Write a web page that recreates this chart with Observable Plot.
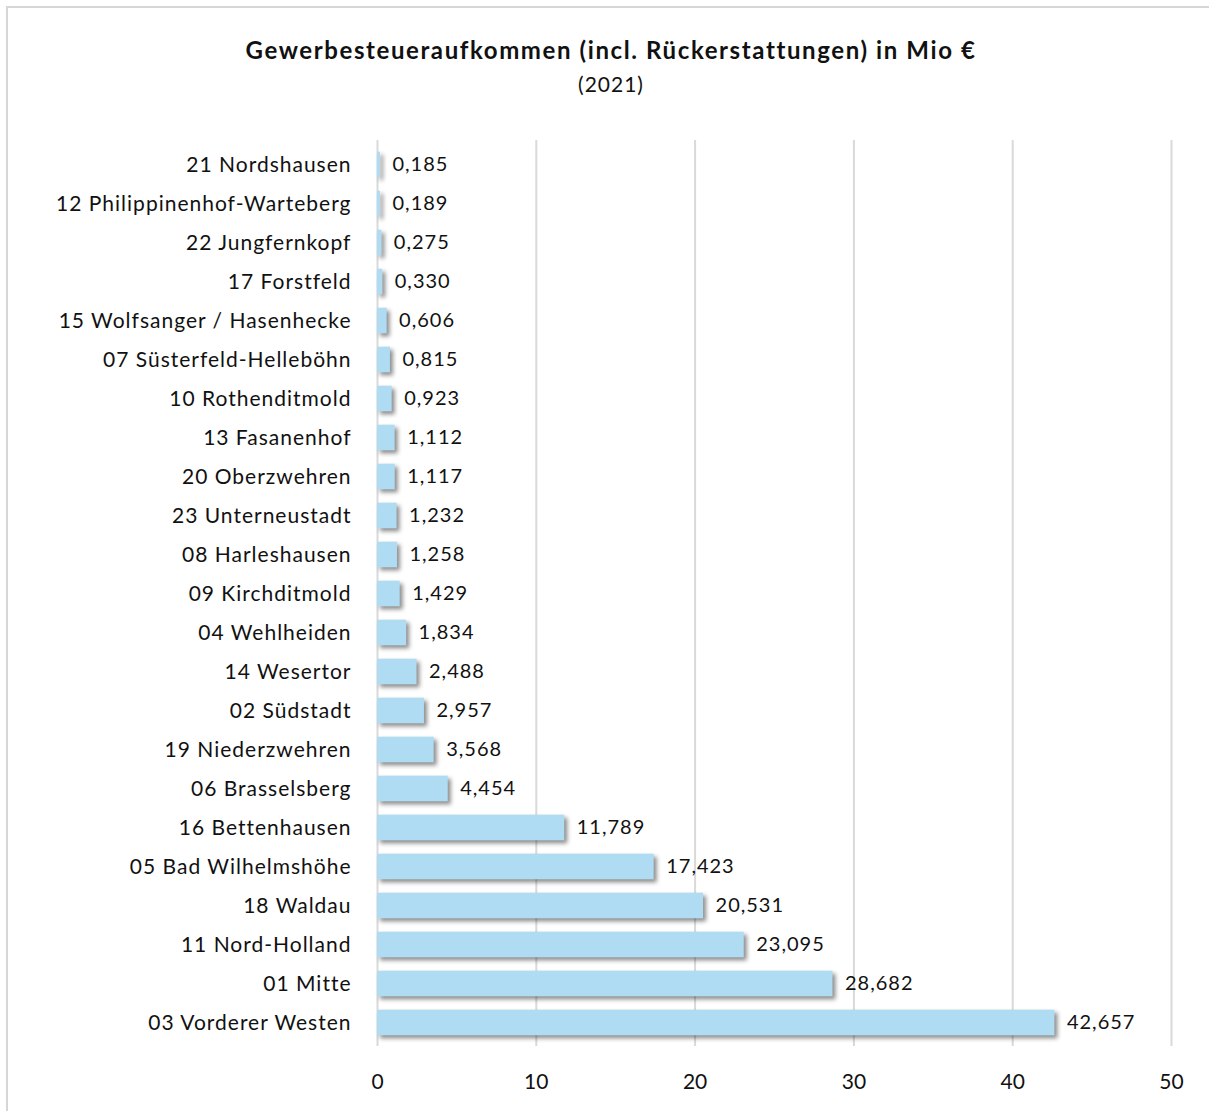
<!DOCTYPE html>
<html><head><meta charset="utf-8">
<script src="https://cdn.jsdelivr.net/npm/d3@7"></script>
<script src="https://cdn.jsdelivr.net/npm/@observablehq/plot@0.6"></script>
<style>
html,body{margin:0;padding:0;background:#fff;}
#wrap{position:relative;width:1209px;height:1111px;overflow:hidden;font-family:Lato,"Open Sans",sans-serif;}
#frame{position:absolute;left:6px;top:6px;width:1220px;height:1120px;border:2px solid #d6d6d6;box-sizing:border-box;}
#title{position:absolute;left:0;width:1222px;top:35px;text-align:center;font-weight:bold;font-size:24px;letter-spacing:1.6px;color:#111;}
#sub{position:absolute;left:0;width:1222px;top:71px;text-align:center;font-size:21px;letter-spacing:1px;color:#111;}
#chart{position:absolute;left:0;top:0;}
#chart svg{overflow:visible;}
</style></head>
<body>
<div id="wrap">
<div id="frame"></div>
<div id="title">Gewerbesteueraufkommen (incl. Rückerstattungen) in Mio €</div>
<div id="sub">(2021)</div>
<div id="chart"></div>
</div>
<script>
const districts = ["21 Nordshausen","12 Philippinenhof-Warteberg","22 Jungfernkopf","17 Forstfeld","15 Wolfsanger / Hasenhecke","07 Süsterfeld-Helleböhn","10 Rothenditmold","13 Fasanenhof","20 Oberzwehren","23 Unterneustadt","08 Harleshausen","09 Kirchditmold","04 Wehlheiden","14 Wesertor","02 Südstadt","19 Niederzwehren","06 Brasselsberg","16 Bettenhausen","05 Bad Wilhelmshöhe","18 Waldau","11 Nord-Holland","01 Mitte","03 Vorderer Westen"];
const values = [0.185,0.189,0.275,0.330,0.606,0.815,0.923,1.112,1.117,1.232,1.258,1.429,1.834,2.488,2.957,3.568,4.454,11.789,17.423,20.531,23.095,28.682,42.657];
const xTicks = [0,10,20,30,40,50];

const data = districts.map((d,i)=>({district:d, value:values[i]}));
const fmt = d3.formatLocale({decimal:",",thousands:".",grouping:[3],currency:["","€"]}).format(".3f");

const plot = Plot.plot({
  width:1209, height:1111,
  marginTop:140, marginBottom:65, marginLeft:377, marginRight:38,
  style:{fontFamily:'Lato,"Open Sans",sans-serif', fontSize:"21px", color:"#111", background:"transparent"},
  x:{domain:[0,50], ticks:xTicks, label:null},
  y:{domain:districts, label:null, padding:0},
  marks:[
    Plot.gridX(xTicks,{stroke:"#d9d9d9", strokeOpacity:1, strokeWidth:2}),
    Plot.barX(data,{x:"value", y:"district", fill:"#afdcf2", insetTop:6.7, insetBottom:6.7}),
    Plot.text(data,{x:"value", y:"district", text:d=>fmt(d.value), textAnchor:"start", dx:12, fill:"#111", fontSize:20, letterSpacing:"1px"}),
    Plot.axisY({tickSize:0, tickPadding:26, fontSize:21, letterSpacing:"1px"}),
    Plot.axisX(xTicks,{tickSize:0, tickPadding:28, fontSize:21})
  ]
});
document.getElementById("chart").appendChild(plot);
d3.select(plot).selectAll('g[aria-label="bar"] rect').style("filter","drop-shadow(3px 3px 2px rgba(0,0,0,0.45))");
d3.select(plot).selectAll('g[aria-label="text"] text, g[aria-label="y-axis tick label"] text').style("letter-spacing","1px");
</script>
</body></html>
